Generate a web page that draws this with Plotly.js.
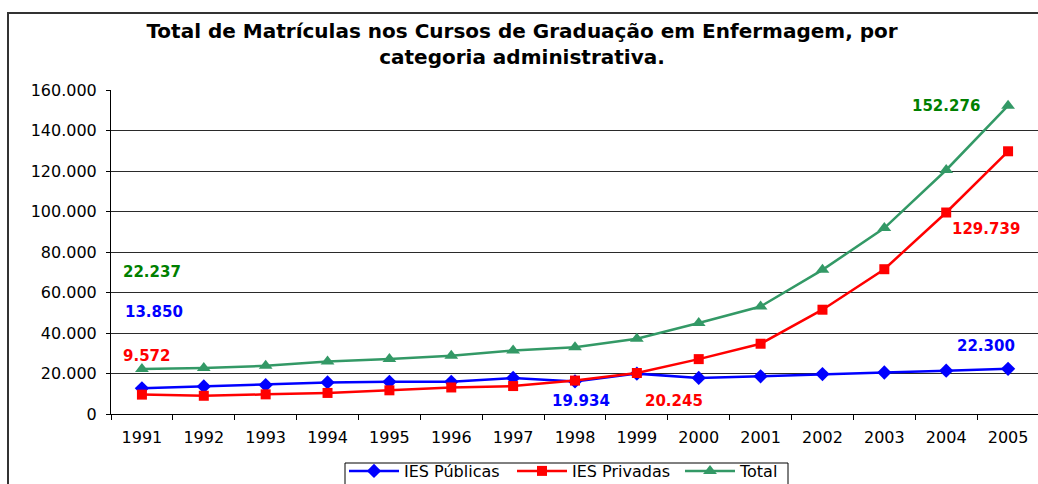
<!DOCTYPE html>
<html>
<head>
<meta charset="utf-8">
<script src="https://cdn.plot.ly/plotly-3.0.1.min.js"></script>
<style>
html,body{margin:0;padding:0;background:#fff;overflow:hidden;width:1038px;height:484px;}
#chart{width:1060px;height:484px;}
</style>
</head>
<body>
<div id="chart"></div>
<script>
// ---- data ----
const years = ['1991','1992','1993','1994','1995','1996','1997','1998','1999','2000','2001','2002','2003','2004','2005'];
const publicas = [12665, 13600, 14300, 15600, 15900, 15900, 17800, 16100, 19934, 17800, 18600, 19700, 20500, 21400, 22300];
const privadas = [9572, 9000, 9700, 10400, 11700, 13100, 13800, 16500, 20245, 27100, 34700, 51500, 71500, 99500, 129739];
const total = [22237, 22700, 23800, 25900, 27100, 28800, 31400, 33000, 37200, 44900, 53100, 71200, 91800, 120500, 152276];
const seriesNames = ['IES Públicas', 'IES Privadas', 'Total'];
const labelTexts = ['22.237', '13.850', '9.572', '19.934', '20.245', '22.300', '129.739', '152.276'];
const titleText = 'Total de Matrículas nos Cursos de Graduação em Enfermagem, por<br>categoria administrativa.';

const FONT = 'DejaVu Sans, Arial, sans-serif';
const cBlue = '#0000FF', cRed = '#FF0000', cGreen = '#339966', cGreenTxt = '#008000';

const traces = [
  {x: years, y: publicas, name: seriesNames[0], type: 'scatter', mode: 'lines+markers',
   line: {color: cBlue, width: 2.5}, marker: {symbol: 'diamond', size: 11, color: cBlue}},
  {x: years, y: privadas, name: seriesNames[1], type: 'scatter', mode: 'lines+markers',
   line: {color: cRed, width: 2.5}, marker: {symbol: 'square', size: 10, color: cRed}},
  {x: years, y: total, name: seriesNames[2], type: 'scatter', mode: 'lines+markers',
   line: {color: cGreen, width: 2.5}, marker: {symbol: 'triangle-up', size: 12, color: cGreen}}
];

function lab(i, cat, y, xs, color) {
  return {text: '<b>' + labelTexts[i] + '</b>', x: years.indexOf(cat), y: y, xref: 'x', yref: 'y',
          xshift: xs, showarrow: false, xanchor: 'center', yanchor: 'middle',
          font: {family: FONT, size: 15, color: color}};
}

const layout = {
  width: 1060, height: 484,
  margin: {l: 111, r: 21, t: 90, b: 70},
  paper_bgcolor: '#ffffff', plot_bgcolor: '#ffffff',
  separators: ',.',
  font: {family: FONT, size: 16, color: '#000'},
  title: {text: titleText, xref: 'container', x: 522/1060, xanchor: 'center',
          yref: 'container', y: 1 - 38/484, yanchor: 'top',
          font: {family: FONT, size: 20, color: '#000', weight: 'bold'}},
  xaxis: {type: 'category', range: [-0.5, 14.5], showgrid: false, showline: true, linecolor: '#000', linewidth: 1,
          ticks: 'outside', ticklen: 5, tickcolor: '#000', tickson: 'boundaries', ticklabelstandoff: 9,
          tickfont: {family: FONT, size: 16, color: '#000'}, zeroline: false, fixedrange: true},
  yaxis: {range: [0, 160000], dtick: 20000, tickformat: ',d', showgrid: true, gridcolor: '#2a2a2a', gridwidth: 1,
          showline: true, linecolor: '#000', linewidth: 1, ticks: 'outside', ticklen: 4, tickcolor: '#000',
          ticklabelstandoff: 6,
          tickfont: {family: FONT, size: 16, color: '#000'}, zeroline: false, fixedrange: true},
  showlegend: true,
  legend: {orientation: 'h', xref: 'container', yref: 'container', x: 344/1060, xanchor: 'left',
           y: 1 - 471/484, yanchor: 'middle', itemwidth: 50, borderwidth: 0, bgcolor: 'rgba(0,0,0,0)',
           entrywidth: 103, entrywidthmode: 'pixels',
           font: {family: FONT, size: 16, color: '#000'}, traceorder: 'normal'},
  shapes: [
    {type: 'rect', xref: 'paper', yref: 'paper', x0: (8-111)/928, x1: 1.2, y0: (414-13)/324, y1: -0.5,
     line: {color: '#333', width: 2}, fillcolor: 'rgba(0,0,0,0)', layer: 'above'},
    {type: 'rect', xref: 'paper', yref: 'paper', x0: (345-111)/928, x1: (788-111)/928, y0: (414-463)/324, y1: -0.4,
     line: {color: '#000', width: 1}, fillcolor: 'rgba(0,0,0,0)', layer: 'above'}
  ],
  annotations: [
    lab(0, '1991', 70300, 10, cGreenTxt),
    lab(1, '1991', 50500, 12, cBlue),
    lab(2, '1991', 28400, 5, cRed),
    lab(3, '1998', 6400, 6, cBlue),
    lab(4, '1999', 6400, 37, cRed),
    lab(5, '2005', 33800, -22, cBlue),
    lab(6, '2005', 91200, -22, cRed),
    lab(7, '2004', 152200, 0, cGreenTxt)
  ]
};

Plotly.newPlot('chart', traces, layout, {displayModeBar: false, staticPlot: true});
</script>
</body>
</html>
